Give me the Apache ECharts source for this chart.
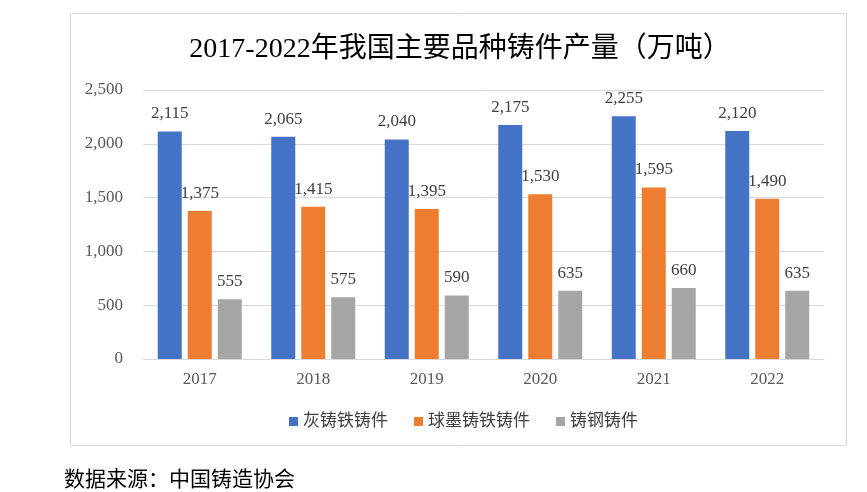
<!DOCTYPE html>
<html><head><meta charset="utf-8">
<script src="https://cdn.jsdelivr.net/npm/echarts@6/dist/echarts.min.js"></script>
<style>html,body{margin:0;padding:0;background:#fff}#c{width:867px;height:492px}</style>
</head><body><div id="c"></div>
<script>
const categories = ['2017','2018','2019','2020','2021','2022'];
const grayIron = [2115,2065,2040,2175,2255,2120];
const ductileIron = [1375,1415,1395,1530,1595,1490];
const steel = [555,575,590,635,660,635];
const seriesNames = ['灰铸铁铸件','球墨铸铁铸件','铸钢铸件'];
const colors = ['#4472C4','#ED7D31','#A5A5A5'];
const serif = '"Times New Roman","Liberation Serif","Noto Sans CJK SC",serif';
const chart = echarts.init(document.getElementById('c'));
const lbl = {show:true,position:'top',distance:9,color:'#404040',fontFamily:serif,fontSize:17,
  formatter:p=>p.value.toLocaleString('en-US')};
chart.setOption({
  animation:false,
  title:{text:'2017-2022年我国主要品种铸件产量（万吨）',left:455,top:31,textAlign:'center',
    textStyle:{fontFamily:serif,fontSize:28,fontWeight:'normal',color:'#000'}},
  graphic:[
    {type:'rect',shape:{x:70.5,y:13.5,width:776,height:432},style:{fill:'none',stroke:'#d9d9d9',lineWidth:1},z:-1},
    {type:'text',left:64,top:468,style:{text:'数据来源：中国铸造协会',font:'21px "Noto Sans CJK SC",serif',fill:'#000'}}
  ],
  legend:{top:408,left:284,itemWidth:9,itemHeight:9,itemGap:26,icon:'rect',
    textStyle:{fontFamily:serif,fontSize:17,color:'#404040'},data:seriesNames},
  grid:{left:143,right:43,top:90,bottom:133,containLabel:false},
  xAxis:{type:'category',data:categories,axisTick:{show:false},
    axisLine:{lineStyle:{color:'#d9d9d9'}},
    axisLabel:{fontFamily:serif,fontSize:17,color:'#595959',margin:12}},
  yAxis:{type:'value',min:0,max:2500,interval:500,
    splitLine:{lineStyle:{color:'#d9d9d9'}},axisLine:{show:false},axisTick:{show:false},
    axisLabel:{fontFamily:serif,fontSize:17,color:'#595959',margin:20,
      formatter:v=>v.toLocaleString('en-US')}},
  series:[
    {name:seriesNames[0],type:'bar',data:grayIron,barWidth:24,barGap:'25%',itemStyle:{color:colors[0]},label:lbl},
    {name:seriesNames[1],type:'bar',data:ductileIron,barWidth:24,barGap:'25%',itemStyle:{color:colors[1]},label:lbl},
    {name:seriesNames[2],type:'bar',data:steel,barWidth:24,barGap:'25%',itemStyle:{color:colors[2]},label:lbl}
  ]
});
</script></body></html>
